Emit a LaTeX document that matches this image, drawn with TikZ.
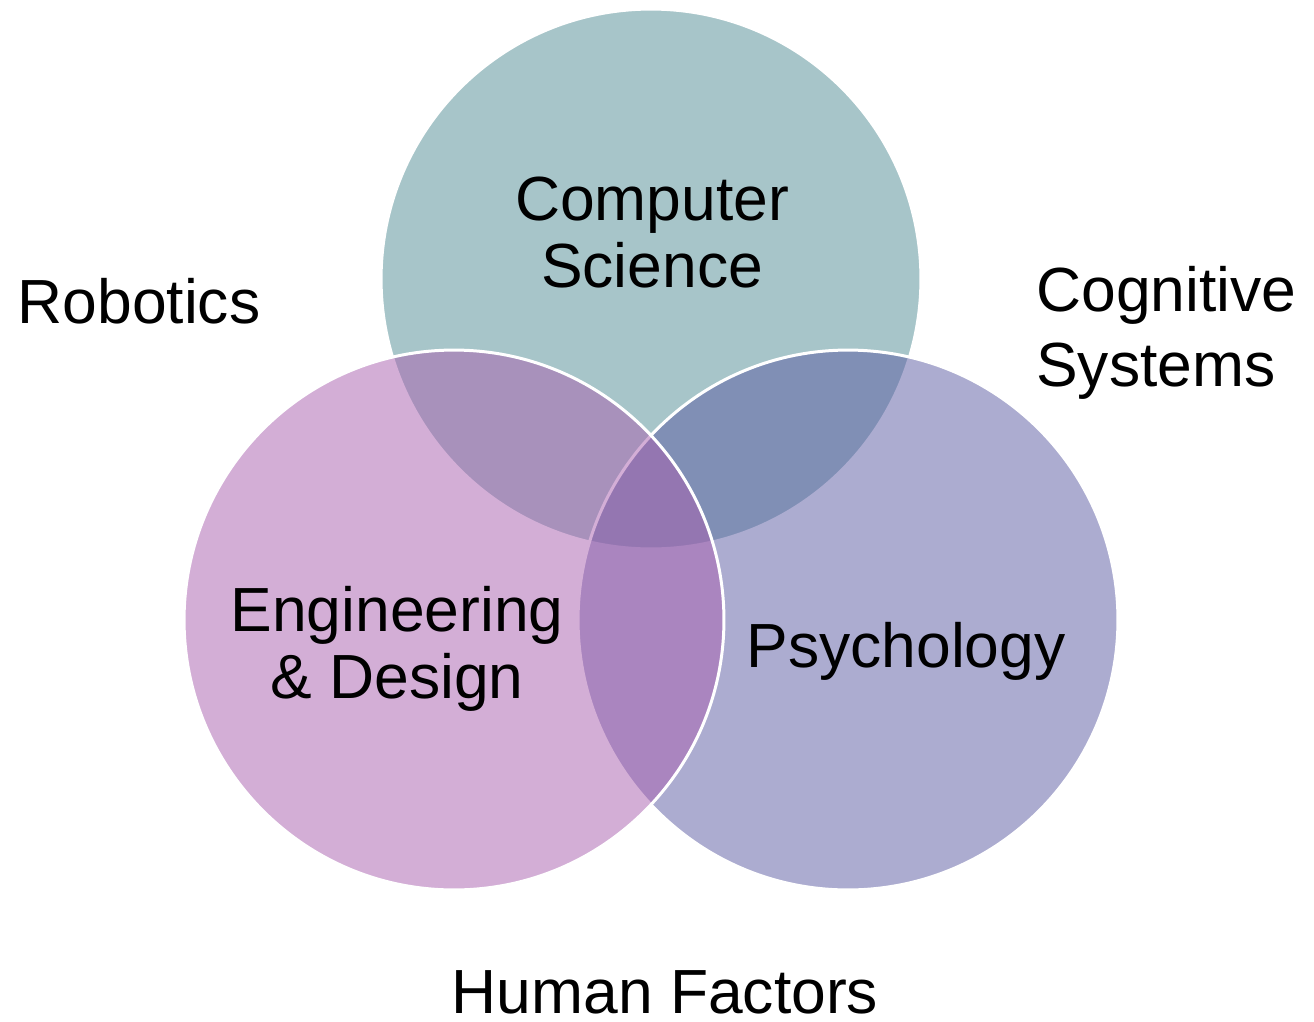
\documentclass[tikz,border=0pt]{standalone}
\usepackage{fontspec}
\setmainfont{Liberation Sans}
\begin{document}
\definecolor{csfill}{RGB}{81,141,149}
\definecolor{edfill}{RGB}{169,95,175}
\definecolor{psfill}{RGB}{91,91,163}
\begin{tikzpicture}[x=0.02cm,y=-0.02cm,
  field/.style={circle, draw=white, line width=0.06cm, fill opacity=0.5,
    minimum size=10.8cm, inner sep=0pt, outer sep=0pt},
  lbl/.style={font=\fontsize{35.5}{38}\selectfont, inner sep=0pt, align=center, text=black}]
\useasboundingbox (0,0) rectangle (1314,1021);
\fill[white] (0,0) rectangle (1314,1021);
% the three overlapping fields, drawn top, right, left
\node[field, fill=csfill] (cs) at (651,279) {};
\node[field, fill=psfill] (ps) at (848,620) {};
\node[field, fill=edfill] (ed) at (454,620) {};
% field names (base anchor sits on the last line)
\node[lbl, anchor=base] (cstext) at (652,287) {Computer\\Science};
\node[lbl, anchor=base] (edtext) at (397,698) {Engineering\\\& Design};
\node[lbl, anchor=base] (pstext) at (906,667) {Psychology};
% overlap names
\node[lbl, anchor=base] (rob) at (139,323) {Robotics};
\node[lbl, anchor=base west, align=left, font=\fontsize{35.5}{42.5}\selectfont] (cog) at (1036,386) {Cognitive\\Systems};
\node[lbl, anchor=base, text depth=0pt] (hf) at (665,1013) {Human Factors};
\end{tikzpicture}
\end{document}
